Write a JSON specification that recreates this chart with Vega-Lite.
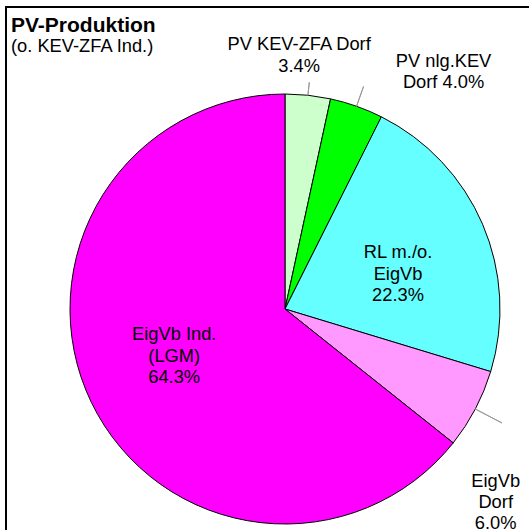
{
  "$schema": "https://vega.github.io/schema/vega-lite/v6.json",
  "width": 558,
  "height": 604,
  "autosize": {"type": "none"},
  "padding": {"left": 6, "top": 7, "right": 0, "bottom": 0},
  "background": "white",
  "view": {"stroke": "black", "strokeWidth": 2},
  "title": {
    "text": "PV-Produktion",
    "subtitle": "(o. KEV-ZFA Ind.)",
    "anchor": "start",
    "frame": "group",
    "orient": "top",
    "offset": -48,
    "dx": 5,
    "font": "Liberation Sans",
    "fontSize": 21,
    "fontWeight": "bold",
    "color": "black",
    "subtitleFont": "Liberation Sans",
    "subtitleFontSize": 18.3,
    "subtitleColor": "black",
    "subtitlePadding": 2
  },
  "data": {
    "values": [
      {"name": "PV KEV-ZFA Dorf", "value": 3.4, "rank": 1, "label": ["PV KEV-ZFA Dorf", "3.4%"]},
      {"name": "PV nlg.KEV Dorf", "value": 4.0, "rank": 2, "label": ["PV nlg.KEV", "Dorf 4.0%"]},
      {"name": "RL m./o. EigVb", "value": 22.3, "rank": 3, "label": ["RL m./o.", "EigVb", "22.3%"]},
      {"name": "EigVb Dorf", "value": 6.0, "rank": 4, "label": ["EigVb", "Dorf", "6.0%"]},
      {"name": "EigVb Ind. (LGM)", "value": 64.3, "rank": 5, "label": ["EigVb Ind.", "(LGM)", "64.3%"]}
    ]
  },
  "encoding": {
    "theta": {"field": "value", "type": "quantitative", "stack": true},
    "order": {"field": "rank", "type": "quantitative", "sort": "ascending"},
    "detail": {"field": "name", "type": "nominal"}
  },
  "layer": [
    {
      "mark": {"type": "arc", "outerRadius": 215, "stroke": "black", "strokeWidth": 1},
      "encoding": {
        "color": {
          "field": "name",
          "type": "nominal",
          "scale": {
            "domain": ["PV KEV-ZFA Dorf", "PV nlg.KEV Dorf", "RL m./o. EigVb", "EigVb Dorf", "EigVb Ind. (LGM)"],
            "range": ["#CCFFCC", "#00FF00", "#66FFFF", "#FF99FF", "#FF00FF"]
          },
          "legend": null
        }
      }
    },
    {
      "mark": {"type": "arc", "innerRadius": 215, "outerRadius": 228, "padAngle": 0.5, "filled": false, "stroke": "#999999", "strokeWidth": 1},
      "encoding": {
        "strokeOpacity": {"condition": {"test": "datum.name === 'PV KEV-ZFA Dorf'", "value": 1}, "value": 0}
      }
    },
    {
      "mark": {"type": "arc", "innerRadius": 215, "outerRadius": 236, "padAngle": 0.5, "filled": false, "stroke": "#999999", "strokeWidth": 1},
      "encoding": {
        "strokeOpacity": {"condition": {"test": "datum.name === 'PV nlg.KEV Dorf'", "value": 1}, "value": 0}
      }
    },
    {
      "mark": {"type": "arc", "innerRadius": 215, "outerRadius": 245, "padAngle": 0.5, "filled": false, "stroke": "#999999", "strokeWidth": 1},
      "encoding": {
        "strokeOpacity": {"condition": {"test": "datum.name === 'EigVb Dorf'", "value": 1}, "value": 0}
      }
    },
    {
      "mark": {"type": "text", "radius": 254.5, "dx": -13, "dy": -10.75, "font": "Liberation Sans", "fontSize": 18.3, "lineHeight": 21.5, "align": "center", "baseline": "middle", "color": "black"},
      "encoding": {
        "text": {"condition": {"test": "datum.name === 'PV KEV-ZFA Dorf'", "field": "label", "type": "nominal"}, "value": ""}
      }
    },
    {
      "mark": {"type": "text", "radius": 251, "dx": 75, "dy": -10.75, "font": "Liberation Sans", "fontSize": 18.3, "lineHeight": 21.5, "align": "center", "baseline": "middle", "color": "black"},
      "encoding": {
        "text": {"condition": {"test": "datum.name === 'PV nlg.KEV Dorf'", "field": "label", "type": "nominal"}, "value": ""}
      }
    },
    {
      "mark": {"type": "text", "radius": 123, "dy": -7.5, "font": "Liberation Sans", "fontSize": 18.3, "lineHeight": 21.5, "align": "center", "baseline": "middle", "color": "black"},
      "encoding": {
        "text": {"condition": {"test": "datum.name === 'RL m./o. EigVb'", "field": "label", "type": "nominal"}, "value": ""}
      }
    },
    {
      "mark": {"type": "text", "radius": 238, "dy": 62.5, "font": "Liberation Sans", "fontSize": 18.3, "lineHeight": 21, "align": "center", "baseline": "middle", "color": "black"},
      "encoding": {
        "text": {"condition": {"test": "datum.name === 'EigVb Dorf'", "field": "label", "type": "nominal"}, "value": ""}
      }
    },
    {
      "mark": {"type": "text", "radius": 123, "dy": -27, "font": "Liberation Sans", "fontSize": 18.3, "lineHeight": 21.5, "align": "center", "baseline": "middle", "color": "black"},
      "encoding": {
        "text": {"condition": {"test": "datum.name === 'EigVb Ind. (LGM)'", "field": "label", "type": "nominal"}, "value": ""}
      }
    }
  ]
}
